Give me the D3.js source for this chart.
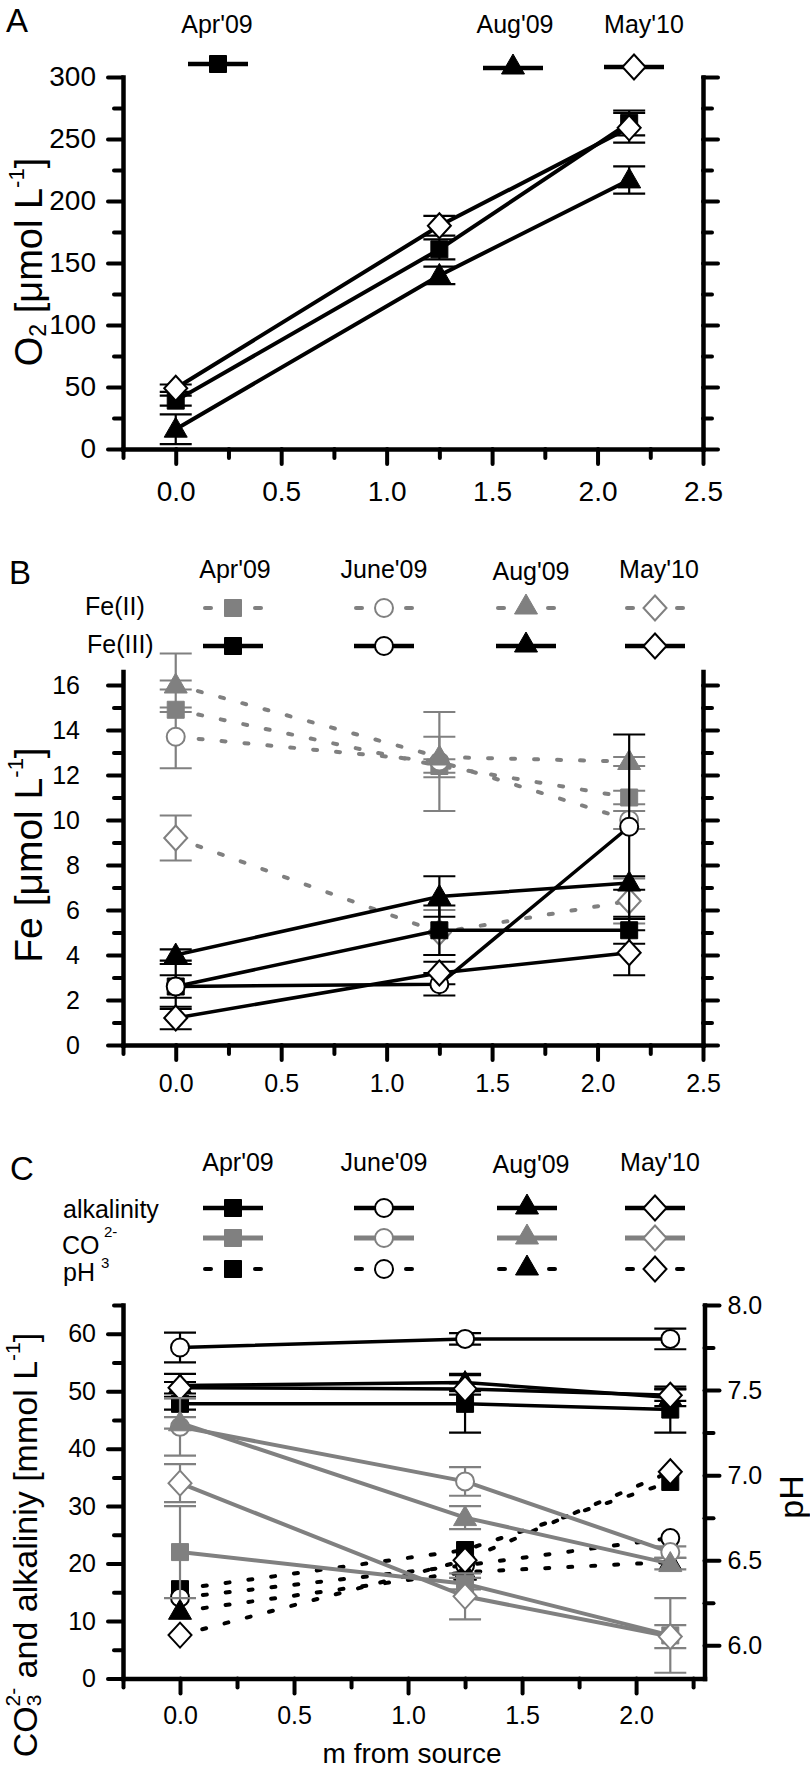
<!DOCTYPE html>
<html><head><meta charset="utf-8">
<script src="https://cdn.jsdelivr.net/npm/d3@7"></script>
<style>body{margin:0;background:#fff} text{font-family:"Liberation Sans",Arial,sans-serif}</style>
</head><body><svg id="c" width="810" height="1769"></svg>
<script>
// ---------- DATA ----------
const xPos = [0, 1.25, 2.15];
const months = ["Apr'09", "June'09", "Aug'09", "May'10"];
const shapes = ["square", "circle", "triangle", "diamond"];

// Panel A: O2 [µmol/L]
const o2Apr = [39, 161, 263],  o2AprErr = [4, 8, 10];
const o2Aug = [16, 140, 217],  o2AugErr = [12, 7, 11];
const o2May = [49, 180, 259],  o2MayErr = [3, 8, 12];

// Panel B: Fe(II) and Fe(III) [µmol/L]
const fe2Apr = [14.9, 12.4, 11.0], fe2AprErr = [0.1, 0.3, 0.3];
const fe2Jun = [13.7, 12.6, 10.0], fe2JunErrLo = [1.4, 2.2, 0.4], fe2JunErrHi = [3.7, 2.2, 0.4];
const fe2Aug = [16.0, 12.8, 12.6], fe2AugErr = [0.2, 0.9, 0.2];
const fe2May = [9.2, 5.0, 6.4],    fe2MayErr = [1.0, 1.0, 1.0];
const fe3Apr = [2.6, 5.1, 5.1],    fe3AprErr = [0.5, 1.1, 0.6];
const fe3Jun = [2.6, 2.7, 9.7],    fe3JunErr = [1.0, 0.5, 4.1];
const fe3Aug = [4.0, 6.6, 7.2],    fe3AugErr = [0.25, 0.9, 0.3];
const fe3May = [1.2, 3.2, 4.1],    fe3MayErr = [0.5, 0.5, 1.0];

// Panel C: alkalinity, CO3 2- [mmol/L], pH
const alkApr = [47.8, 47.8, 46.8], alkAprErr = [1, 5, 4];
const alkJun = [57.6, 59.1, 59.1], alkJunErr = [2.6, 1, 1.8];
const alkAug = [51.0, 51.5, 48.9], alkAugErr = [2, 1.5, 1.5];
const alkMay = [50.6, 50.4, 49.3], alkMayErr = [1, 1, 1];
const co3Apr = [22.0, 16.5, 7.5],  co3AprErr = [8, 1, 6.5];
const co3Jun = [43.8, 34.3, 22.0], co3JunErr = [5, 2.5, 1];
const co3Aug = [44.5, 28.0, 20.0], co3AugErr = [1, 2, 1];
const co3May = [34.0, 14.3, 7.3],  co3MayErr = [3.3, 4, 2];
const phApr = [6.33, 6.56, 6.96];
const phJun = [6.28, 6.47, 6.63];
const phAug = [6.20, 6.43, 6.49];
const phMay = [6.06, 6.50, 7.02];

// Tick values
const xMajA = [0, 0.5, 1.0, 1.5, 2.0, 2.5], xMinA = [-0.25, 0.25, 0.75, 1.25, 1.75, 2.25];
const xMajC = [0, 0.5, 1.0, 1.5, 2.0],      xMinC = [-0.25, 0.25, 0.75, 1.25, 1.75, 2.25];
const yMajA = [0, 50, 100, 150, 200, 250, 300], yMinA = [25, 75, 125, 175, 225, 275];
const yMajB = [0, 2, 4, 6, 8, 10, 12, 14, 16], yMinB = [1, 3, 5, 7, 9, 11, 13, 15];
const yMajC = [0, 10, 20, 30, 40, 50, 60], yMinC = [5, 15, 25, 35, 45, 55, 65];
const pMajC = [6.0, 6.5, 7.0, 7.5, 8.0], pMinC = [6.25, 6.75, 7.25, 7.75];

// ---------- DRAWING ----------
const svg = d3.select("#c");
const BLACK = "#000", GRAY = "#808080";
const DOT = "4,19";

function shapePath(s) {
  switch (s) {
    case "square": return "M-8.5,-8.5H8.5V8.5H-8.5Z";
    case "circle": return "M-9,0A9,9 0 1,0 9,0A9,9 0 1,0 -9,0Z";
    case "triangle": return "M0,-12L11.5,8L-11.5,8Z";
    case "diamond": return "M0,-12.5L11.5,0L0,12.5L-11.5,0Z";
  }
}
function isOpen(s) { return s === "circle" || s === "diamond"; }
function marker(g, s, color, cx, cy) {
  g.append("path").attr("d", shapePath(s))
    .attr("transform", `translate(${cx},${cy})`)
    .attr("fill", isOpen(s) ? "#fff" : color)
    .attr("stroke", color).attr("stroke-width", isOpen(s) ? 2 : 1);
}

function styleAxis(a, fs) {
  a.attr("font-family", null).attr("font-size", null);
  a.selectAll("path.domain").attr("stroke-width", 4.5).attr("stroke-linecap", "square");
  a.selectAll(".tick line").attr("stroke-width", 4).attr("stroke-linecap", "round");
  a.selectAll("text").attr("font-size", fs).attr("font-family", "'Liberation Sans',Arial,sans-serif");
}

function axis(g, fn, scale, maj, min, fmt, fs, pad, transform) {
  const a1 = g.append("g").attr("transform", transform);
  a1.call(fn(scale).tickValues(min).tickSize(9).tickSizeOuter(0).tickFormat(""));
  styleAxis(a1, fs);
  const a2 = g.append("g").attr("transform", transform);
  a2.call(fn(scale).tickValues(maj).tickSize(15).tickSizeOuter(0).tickPadding(pad)
    .tickFormat(fmt ? d3.format(fmt) : ""));
  styleAxis(a2, fs);
  a2.select("path.domain").remove();
}

function series(layers, x, y, vals, lo, hi, s, color, dotted, lw) {
  const pts = vals.map((v, i) => [x(xPos[i]), y(v)]);
  const line = d3.line();
  layers.lines.append("path").attr("d", line(pts)).attr("fill", "none")
    .attr("stroke", color).attr("stroke-width", lw)
    .attr("stroke-linecap", dotted ? "round" : "butt")
    .attr("stroke-dasharray", dotted ? DOT : null);
  if (lo) {
    vals.forEach((v, i) => {
      const e1 = lo[i], e2 = (hi || lo)[i];
      const cx = x(xPos[i]);
      const eg = layers.errs.append("g").attr("stroke", color).attr("stroke-width", 2.2);
      eg.append("line").attr("x1", cx).attr("x2", cx).attr("y1", y(v - e1)).attr("y2", y(v + e2));
      [v - e1, v + e2].forEach(t => eg.append("line").attr("x1", cx - 16).attr("x2", cx + 16)
        .attr("y1", y(t)).attr("y2", y(t)));
    });
  }
  pts.forEach(p => marker(layers.marks, s, color, p[0], p[1]));
}

function makeLayers(g) {
  return { errs: g.append("g"), lines: g.append("g"), marks: g.append("g") };
}

function vtitle(cx, cy, parts, fs, rot) {
  const t = svg.append("text").attr("transform", `translate(${cx},${cy}) rotate(${rot || -90})`)
    .attr("text-anchor", "middle").attr("dominant-baseline", "central").attr("font-size", fs);
  parts.forEach(p => {
    const ts = t.append("tspan").text(p.t);
    if (p.fs) ts.attr("font-size", p.fs);
    if (p.dy) ts.attr("dy", p.dy);
    if (p.dx) ts.attr("dx", p.dx);
  });
  return t;
}
function txt(x, y, s, fs, anchor) {
  return svg.append("text").attr("x", x).attr("y", y).attr("font-size", fs)
    .attr("text-anchor", anchor || "start").text(s);
}

// ===== Panel A =====
{
  const L = 123, R = 703, T = 77, B = 449;
  const x = d3.scaleLinear().domain([-0.25, 2.5]).range([L, R]);
  const y = d3.scaleLinear().domain([0, 300]).range([B, T]);
  const g = svg.append("g");
  axis(g, d3.axisBottom, x, xMajA, xMinA, ".1f", 28, 17, `translate(0,${B})`);
  axis(g, d3.axisLeft, y, yMajA, yMinA, "d", 28, 12, `translate(${L},0)`);
  axis(g, d3.axisRight, y, yMajA, yMinA, null, 28, 12, `translate(${R},0)`);
  const ly = makeLayers(g);
  series(ly, x, y, o2Apr, o2AprErr, null, "square", BLACK, false, 4);
  series(ly, x, y, o2Aug, o2AugErr, null, "triangle", BLACK, false, 4);
  series(ly, x, y, o2May, o2MayErr, null, "diamond", BLACK, false, 4);
  txt(6, 32, "A", 33);
  const leg = [[months[0], "square", 217, 218, 64], [months[2], "triangle", 515, 513, 68], [months[3], "diamond", 644, 634, 67]];
  leg.forEach(([lab, s, lx, mx, my]) => {
    txt(lx, 33, lab, 25, "middle");
    svg.append("line").attr("x1", mx - 30).attr("x2", mx + 30).attr("y1", my).attr("y2", my)
      .attr("stroke", BLACK).attr("stroke-width", 4.5);
    marker(svg, s, BLACK, mx, s === "triangle" ? my - 2 : my);
  });
  vtitle(29, 262, [{t: "O"}, {t: "2", fs: 23, dy: 9}, {t: " [μmol L", dy: -9}, {t: "-1", fs: 22, dy: -13}, {t: "]", dy: 13}], 38);
}

// ===== Panel B =====
{
  const L = 123, R = 703, T = 671.5, B = 1045;
  const x = d3.scaleLinear().domain([-0.25, 2.5]).range([L, R]);
  const y = d3.scaleLinear().domain([0, 16.6]).range([B, T]);
  const g = svg.append("g");
  axis(g, d3.axisBottom, x, xMajA, xMinA, ".1f", 25, 14, `translate(0,${B})`);
  axis(g, d3.axisLeft, y, yMajB, yMinB, "d", 25, 28, `translate(${L},0)`);
  axis(g, d3.axisRight, y, yMajB, yMinB, null, 25, 12, `translate(${R},0)`);
  const ly = makeLayers(g);
  series(ly, x, y, fe2Apr, fe2AprErr, null, "square", GRAY, true, 4);
  series(ly, x, y, fe2Jun, fe2JunErrLo, fe2JunErrHi, "circle", GRAY, true, 4);
  series(ly, x, y, fe2Aug, fe2AugErr, null, "triangle", GRAY, true, 4);
  series(ly, x, y, fe2May, fe2MayErr, null, "diamond", GRAY, true, 4);
  const ly2 = makeLayers(g);
  series(ly2, x, y, fe3Apr, fe3AprErr, null, "square", BLACK, false, 3.5);
  series(ly2, x, y, fe3Jun, fe3JunErr, null, "circle", BLACK, false, 3.5);
  series(ly2, x, y, fe3Aug, fe3AugErr, null, "triangle", BLACK, false, 3.5);
  series(ly2, x, y, fe3May, fe3MayErr, null, "diamond", BLACK, false, 3.5);
  txt(9, 584, "B", 33);
  const lx = [235, 384, 531, 659], mx = [233, 384, 526, 655];
  months.forEach((m, i) => {
    txt(lx[i], i === 2 ? 580 : 578, m, 25, "middle");
    [[-28, -22], [22, 28]].forEach(([a, b]) => svg.append("line").attr("x1", mx[i] + a).attr("x2", mx[i] + b)
      .attr("y1", 608).attr("y2", 608).attr("stroke", GRAY).attr("stroke-width", 4).attr("stroke-linecap", "round"));
    marker(svg, shapes[i], GRAY, mx[i], shapes[i] === "triangle" ? 606 : 608);
    svg.append("line").attr("x1", mx[i] - 30).attr("x2", mx[i] + 30).attr("y1", 646).attr("y2", 646)
      .attr("stroke", BLACK).attr("stroke-width", 4.5);
    marker(svg, shapes[i], BLACK, mx[i], shapes[i] === "triangle" ? 644 : 646);
  });
  txt(85, 615, "Fe(II)", 25);
  txt(87, 653, "Fe(III)", 25);
  vtitle(28, 855, [{t: "Fe [μmol L"}, {t: "-1", fs: 22, dy: -13}, {t: "]", dy: 13}], 39);
}

// ===== Panel C =====
{
  const L = 123, R = 704.5, T = 1305, B = 1678.5;
  const x = d3.scaleLinear().domain([-0.25, 2.3]).range([L, R]);
  const y = d3.scaleLinear().domain([0, 65]).range([B, T]);
  const y2 = d3.scaleLinear().domain([5.805, 8.0]).range([B, T]);
  const g = svg.append("g");
  axis(g, d3.axisBottom, x, xMajC, xMinC, ".1f", 25, 13, `translate(0,${B})`);
  axis(g, d3.axisLeft, y, yMajC, yMinC, "d", 25, 12, `translate(${L},0)`);
  axis(g, d3.axisRight, y2, pMajC, pMinC, ".1f", 25, 8, `translate(${R},0)`);
  const lyP = makeLayers(g);
  series(lyP, x, y2, phApr, null, null, "square", BLACK, true, 4);
  series(lyP, x, y2, phJun, null, null, "circle", BLACK, true, 4);
  series(lyP, x, y2, phAug, null, null, "triangle", BLACK, true, 4);
  series(lyP, x, y2, phMay, null, null, "diamond", BLACK, true, 4);
  const lyA = makeLayers(g);
  series(lyA, x, y, alkApr, alkAprErr, null, "square", BLACK, false, 3.5);
  series(lyA, x, y, alkJun, alkJunErr, null, "circle", BLACK, false, 3.5);
  series(lyA, x, y, alkAug, alkAugErr, null, "triangle", BLACK, false, 3.5);
  series(lyA, x, y, alkMay, alkMayErr, null, "diamond", BLACK, false, 3.5);
  const lyC = makeLayers(g);
  series(lyC, x, y, co3Apr, co3AprErr, null, "square", GRAY, false, 4);
  series(lyC, x, y, co3Jun, co3JunErr, null, "circle", GRAY, false, 4);
  series(lyC, x, y, co3Aug, co3AugErr, null, "triangle", GRAY, false, 4);
  series(lyC, x, y, co3May, co3MayErr, null, "diamond", GRAY, false, 4);
  txt(10, 1180, "C", 33);
  const lx = [238, 384, 531, 660], mx = [233, 384, 527, 655];
  months.forEach((m, i) => {
    txt(lx[i], i === 2 ? 1173 : 1171, m, 25, "middle");
    const s = shapes[i], tri = s === "triangle" ? -2 : 0;
    svg.append("line").attr("x1", mx[i] - 30).attr("x2", mx[i] + 30).attr("y1", 1208).attr("y2", 1208)
      .attr("stroke", BLACK).attr("stroke-width", 4.5);
    marker(svg, s, BLACK, mx[i], 1208 + tri);
    svg.append("line").attr("x1", mx[i] - 30).attr("x2", mx[i] + 30).attr("y1", 1238).attr("y2", 1238)
      .attr("stroke", GRAY).attr("stroke-width", 5);
    marker(svg, s, GRAY, mx[i], 1238 + tri);
    [[-28, -22], [22, 28]].forEach(([a, b]) => svg.append("line").attr("x1", mx[i] + a).attr("x2", mx[i] + b)
      .attr("y1", 1269).attr("y2", 1269).attr("stroke", BLACK).attr("stroke-width", 4).attr("stroke-linecap", "round"));
    marker(svg, s, BLACK, mx[i], 1269 + tri);
  });
  txt(63, 1218, "alkalinity", 25);
  txt(62, 1254, "CO", 25);
  txt(104, 1237, "2-", 15);
  txt(101, 1268, "3", 15);
  txt(63, 1281, "pH", 25);
  vtitle(25, 1545, [{t: "CO"}, {t: "3", fs: 21, dy: 8}, {t: "2-", fs: 21, dy: -21, dx: -12},
    {t: " and alkaliniy [mmol L", dy: 13}, {t: "-1", fs: 21, dy: -13}, {t: "]", dy: 13}], 34);
  vtitle(791, 1497, [{t: "pH"}], 34);
  txt(412, 1763, "m from source", 28, "middle");
}
</script></body></html>
